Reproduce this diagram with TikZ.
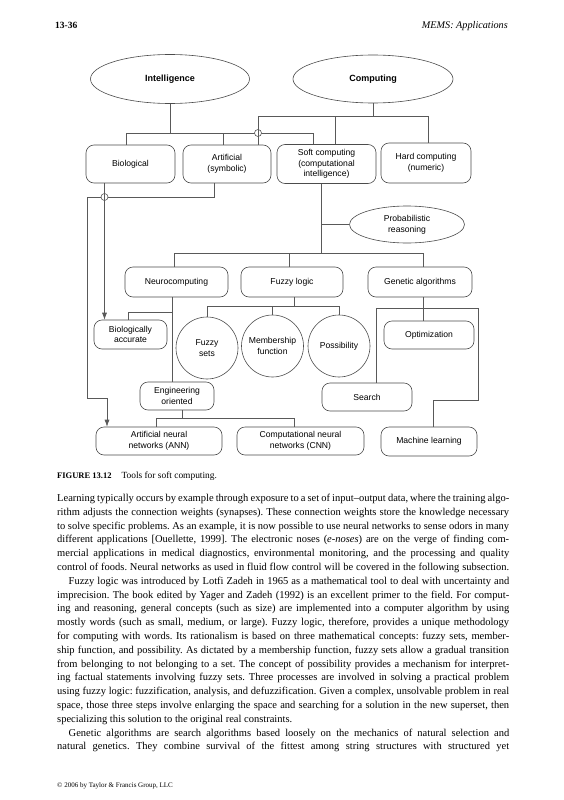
\documentclass[tikz,border=0pt]{standalone}
\usepackage{fontspec}
\setmainfont{Liberation Serif}
\setsansfont{Liberation Sans}
\usetikzlibrary{shapes.geometric,arrows.meta,calc}
\newcommand\jline[3]{\node[bodytext] (#1) at (57,#2) {\frenchspacing\hbox to 452pt{#3}};}
\newcommand\lline[3]{\node[bodytext] (#1) at (57,#2) {\frenchspacing\hbox{#3}};}
\begin{document}
\begin{tikzpicture}[x=1pt,y=-1pt,
  conn/.style={draw=black!65,line width=0.6pt},
  dfont/.style={font=\sffamily\fontsize{8.6}{10.6}\selectfont},
  rbox/.style={draw=black!70,line width=0.6pt,rounded corners=8pt,align=center,inner sep=0pt,dfont},
  ell/.style={ellipse,draw=black!70,line width=0.6pt,align=center,inner sep=0pt,dfont},
  circ/.style={circle,draw=black!70,line width=0.6pt,align=center,inner sep=0pt,minimum size=62pt,dfont},
  hop/.style={circle,draw=black!65,fill=white,line width=0.6pt,inner sep=0pt,minimum size=7pt},
  arr/.style={-{Latex[length=7pt,width=5pt]}},
  bodytext/.style={anchor=base west,inner sep=0pt,font=\fontsize{10.5}{13.8}\selectfont},
]
\fill[white] (0,0) rectangle (564,800);
\useasboundingbox (0,0) rectangle (564,800);

% header
\node[anchor=base west,inner sep=0pt,font=\bfseries\fontsize{9.5}{11}\selectfont] (pg) at (55,28.5) {13-36};
\node[anchor=base east,inner sep=0pt,font=\itshape\fontsize{10.2}{12}\selectfont] (hd) at (508,28.5) {MEMS: Applications};

% diagram nodes
\node[ell,minimum width=159pt,minimum height=49pt,font=\sffamily\bfseries\fontsize{9}{11}\selectfont] (intel) at (170,79) {Intelligence};
\node[ell,minimum width=160pt,minimum height=48pt,font=\sffamily\bfseries\fontsize{9}{11}\selectfont] (comp) at (373,79) {Computing};
\node[rbox,minimum width=89pt,minimum height=38pt] (bio) at (130.5,164) {Biological};
\node[rbox,minimum width=88pt,minimum height=38pt] (art) at (227,164) {Artificial\\(symbolic)};
\node[rbox,minimum width=99pt,minimum height=39pt] (soft) at (326.5,164) {Soft computing\\(computational\\intelligence)};
\node[rbox,minimum width=90pt,minimum height=40pt] (hard) at (426,163) {Hard computing\\(numeric)};
\node[ell,minimum width=115pt,minimum height=37pt] (prob) at (407,224.5) {Probabilistic\\reasoning};
\node[rbox,minimum width=103pt,minimum height=30pt] (neuro) at (176.5,282) {Neurocomputing};
\node[rbox,minimum width=102pt,minimum height=30pt] (fuzzy) at (292,282) {Fuzzy logic};
\node[rbox,minimum width=104pt,minimum height=30pt] (gen) at (420,282) {Genetic algorithms};
\node[circ] (fsets) at (207,348) {Fuzzy\\sets};
\node[circ] (memb) at (272.5,346) {Membership\\function};
\node[circ] (poss) at (339,346) {Possibility};
\node[rbox,minimum width=73pt,minimum height=29pt] (bioacc) at (130.5,334.5) {Biologically\\accurate};
\node[rbox,minimum width=74pt,minimum height=28pt] (eng) at (177,396) {Engineering\\oriented};
\node[rbox,minimum width=90pt,minimum height=28pt] (opt) at (429,335) {Optimization};
\node[rbox,minimum width=90pt,minimum height=28pt] (search) at (367,397) {Search};
\node[rbox,minimum width=126pt,minimum height=28pt] (ann) at (159,441) {Artificial neural\\networks (ANN)};
\node[rbox,minimum width=127pt,minimum height=28pt] (cnn) at (300.5,441) {Computational neural\\networks (CNN)};
\node[rbox,minimum width=96pt,minimum height=29pt] (ml) at (429,441.5) {Machine learning};

% Intelligence bus
\draw[conn] (intel.south) -- (170,133);
\draw[conn] ([xshift=-4.5pt]bio.north) |- (313,133) -- ([xshift=-13.5pt]soft.north);
\draw[conn] ([xshift=-4pt]art.north) -- (223,133);
% Computing bus
\draw[conn] (comp.south) -- (373,116);
\draw[conn] ([xshift=31pt]art.north) |- (428,116) -- ([xshift=2pt]hard.north);
\draw[conn] ([xshift=8.5pt]soft.north) -- (335,116);
\node[hop] (h1) at (258,133) {};
\draw[conn] (h1.north) -- (h1.south);

% Biological -> Biologically accurate ; Artificial -> ANN
\draw[conn,arr] ([xshift=-26pt]bio.south) -- ([xshift=-26pt]bioacc.north);
\draw[conn,arr] ([xshift=-13pt]art.south) |- (87,197) -- (87,398) -| ([xshift=-52pt]ann.north);
\node[hop] (h2) at (104.5,197) {};
\draw[conn] (h2.north) -- (h2.south);

% Soft computing
\draw[conn] ([xshift=-5.5pt]soft.south) -- (321,253);
\draw[conn] (321,224.5) -- (prob.west);
\draw[conn] ([xshift=-2.5pt]neuro.north) |- (423,253) -- ([xshift=3pt]gen.north);
\draw[conn] ([xshift=-3pt]fuzzy.north) -- (289,253);

% Fuzzy logic
\draw[conn] ([xshift=2pt]fuzzy.south) -- (294,306);
\draw[conn] (fsets.north) |- (339,306) -- (poss.north);
\draw[conn] (memb.north) -- (272.5,306);

% Neurocomputing
\draw[conn] ([xshift=-4.5pt]neuro.south) -- ([xshift=-5pt]eng.north);
\draw[conn] (172,312) -| ([xshift=-2.5pt]bioacc.north);

% Engineering oriented
\draw[conn] ([xshift=5pt]eng.south) -- (182,418);
\draw[conn] ([xshift=-3pt]ann.north) |- (294.5,418) -- ([xshift=-6pt]cnn.north);

% Genetic algorithms
\draw[conn] ([xshift=3pt]gen.south) -- ([xshift=-6pt]opt.north);
\draw[conn] ([xshift=9pt]search.north) |- (478,308) |- (433,400) -- ([xshift=4pt]ml.north);

% caption
\node[anchor=base west,inner sep=0pt] (cap) at (57,478) {{\bfseries\fontsize{8.5}{10}\selectfont FIGURE 13.12}\hspace{10pt}{\fontsize{9.4}{11}\selectfont Tools for soft computing.}};

% body text
\jline{t1}{501.5}{Learning typically occurs by example through exposure to a set of input–output data, where the training algo-}
\jline{t2}{515.3}{rithm adjusts the connection weights (synapses). These connection weights store the knowledge necessary}
\jline{t3}{529.1}{to solve specific problems. As an example, it is now possible to use neural networks to sense odors in many}
\jline{t4}{542.9}{different applications [Ouellette, 1999]. The electronic noses (\textit{e-noses}) are on the verge of finding com-}
\jline{t5}{556.7}{mercial applications in medical diagnostics, environmental monitoring, and the processing and quality}
\jline{t6}{570.5}{control of foods. Neural networks as used in fluid flow control will be covered in the following subsection.}
\jline{t7}{584.3}{\hspace*{11.5pt}Fuzzy logic was introduced by Lotfi Zadeh in 1965 as a mathematical tool to deal with uncertainty and}
\jline{t8}{598.1}{imprecision. The book edited by Yager and Zadeh (1992) is an excellent primer to the field. For comput-}
\jline{t9}{611.9}{ing and reasoning, general concepts (such as size) are implemented into a computer algorithm by using}
\jline{t10}{625.7}{mostly words (such as small, medium, or large). Fuzzy logic, therefore, provides a unique methodology}
\jline{t11}{639.5}{for computing with words. Its rationalism is based on three mathematical concepts: fuzzy sets, member-}
\jline{t12}{653.3}{ship function, and possibility. As dictated by a membership function, fuzzy sets allow a gradual transition}
\jline{t13}{667.1}{from belonging to not belonging to a set. The concept of possibility provides a mechanism for interpret-}
\jline{t14}{680.9}{ing factual statements involving fuzzy sets. Three processes are involved in solving a practical problem}
\jline{t15}{694.7}{using fuzzy logic: fuzzification, analysis, and defuzzification. Given a complex, unsolvable problem in real}
\jline{t16}{708.5}{space, those three steps involve enlarging the space and searching for a solution in the new superset, then}
\lline{t17}{722.3}{specializing this solution to the original real constraints.}
\jline{t18}{736.1}{\hspace*{11.5pt}Genetic algorithms are search algorithms based loosely on the mechanics of natural selection and}
\jline{t19}{749.9}{natural genetics. They combine survival of the fittest among string structures with structured yet}

% footer
\node[anchor=base west,inner sep=0pt,font=\fontsize{7}{8}\selectfont] (ft) at (57,787) {© 2006 by Taylor \& Francis Group, LLC};
\end{tikzpicture}
\end{document}
